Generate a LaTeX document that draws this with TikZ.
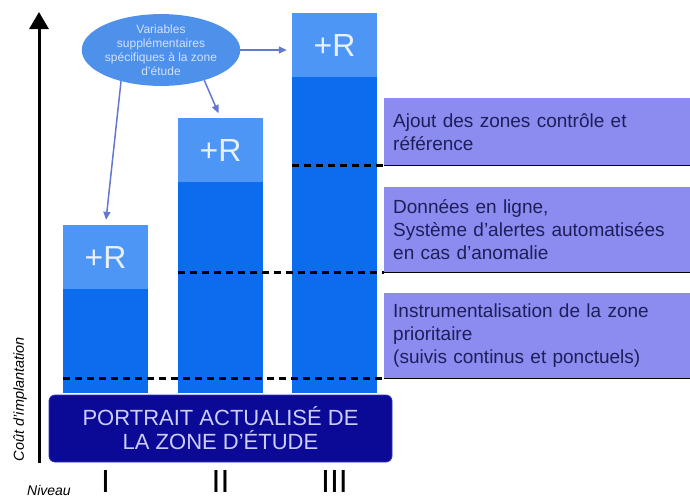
\documentclass[tikz,border=0pt]{standalone}
\usepackage{fontspec}
\setmainfont{Liberation Sans}
\usetikzlibrary{arrows.meta,shapes.geometric}

\definecolor{barfonce}{RGB}{12,108,238}
\definecolor{barclair}{RGB}{78,150,245}
\definecolor{bulle}{RGB}{78,145,235}
\definecolor{bulletexte}{RGB}{210,225,255}
\definecolor{encadre}{RGB}{140,140,240}
\definecolor{encadretexte}{RGB}{30,30,90}
\definecolor{marine}{RGB}{10,10,150}
\definecolor{marinetexte}{RGB}{205,205,255}
\definecolor{fleche}{RGB}{100,120,210}

\tikzset{
  plusr/.style={fill=barclair, minimum width=85pt, minimum height=64pt, inner sep=0pt,
    text={rgb,255:red,232;green,240;blue,255}, font=\fontsize{32}{32}\selectfont},
  encadre/.style={fill=encadre, text=encadretexte, anchor=north west, text width=288pt,
    inner xsep=9pt, inner ysep=0pt, align=left, font=\fontsize{19}{23}\selectfont},
  seuil/.style={line width=2.2pt, dash pattern=on 7pt off 5pt},
  trait/.style={line width=1.6pt},
  lien/.style={fleche, line width=1.5pt, -{Triangle[width=7pt,length=8pt]}, shorten >=5pt},
  niveau/.style={anchor=base, inner sep=0pt, font=\fontsize{32}{32}\selectfont}
}

\begin{document}
\begin{tikzpicture}[x=1pt,y=-1pt]
\useasboundingbox (0,0) rectangle (690,499);

% Axe du coût
\draw[line width=3pt, -{Triangle[width=19pt,length=17pt]}] (39,463) -- (39,12);
\node[rotate=90, font=\fontsize{14.5}{14.5}\selectfont\itshape] (cout) at (20,399) {Coût d'implantation};
\node[anchor=base west, inner sep=0pt, font=\fontsize{14}{14}\selectfont\itshape] (niv) at (27,495) {Niveau};

% Barres des trois niveaux
\foreach \n/\x/\t in {I/63/225, II/178/118, III/292/13}
{
\fill[barfonce] (\x,\t+63) rectangle (\x+85,393);
\node[plusr] (r\n) at (\x+42.5,\t+32) {+R};
\node[niveau] (n\n) at (\x+42.5,492) {\n};
}

% Encadrés à droite
\node[encadre, minimum height=67pt] (ajout) at (384,98)
  {Ajout des zones contrôle et\\référence};
\node[encadre, minimum height=85pt] (donnees) at (384,187)
  {Données en ligne,\\Système d'alertes automatisées\\en cas d'anomalie};
\node[encadre, minimum height=85pt] (instru) at (384,293)
  {Instrumentalisation de la zone\\prioritaire\\(suivis continus et ponctuels)};

\draw[trait] (ajout.south west) -- (ajout.south east);
\draw[trait] (donnees.south west) -- (donnees.south east);
\draw[trait] (instru.south west) -- (instru.south east);

\draw[seuil] (rIII.west |- ajout.south) -- (ajout.south west);
\draw[seuil] (rII.west |- donnees.south) -- (donnees.south west);
\draw[seuil] (rI.west |- instru.south) -- (instru.south west);

% Portrait de la zone
\node[fill=marine, draw={rgb,255:red,50;green,50;blue,190}, line width=0.8pt,
  rounded corners=6pt, minimum width=343pt, minimum height=67pt, align=center,
  text=marinetexte, font=\fontsize{22}{24}\selectfont] (portrait) at (220.5,428.5)
  {PORTRAIT ACTUALISÉ DE\\LA ZONE D'ÉTUDE};

% Bulle des variables
\node[ellipse, fill=bulle, minimum width=144pt, minimum height=66pt, inner sep=0pt,
  align=center, text=bulletexte, font=\fontsize{12}{14}\selectfont] (var) at (161,50)
  {Variables\\supplémentaires\\spécifiques à la zone\\d'étude};

\draw[lien] (var.218) -- (rI.north);
\draw[lien] (var.325) -- (rII.north);
\draw[lien] (var.east) -- (var.east -| rIII.west);

\end{tikzpicture}
\end{document}
